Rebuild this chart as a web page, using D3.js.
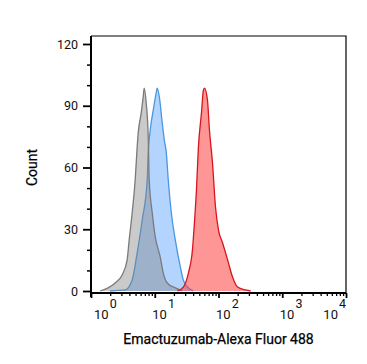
<!DOCTYPE html>
<html>
<head>
<meta charset="utf-8">
<script src="https://cdn.jsdelivr.net/npm/d3@7"></script>
<style>
  body { margin: 0; background: #fff; }
  svg { display: block; font-family: Roboto, "Noto Sans", sans-serif; }
</style>
</head>
<body>
<svg id="chart" width="367" height="364"></svg>
<script>
// isotype control (gray)
const isoX = [1.39, 1.85, 2.39, 3.08, 3.69, 3.97, 4.42, 4.93, 5.3, 5.5, 6.13, 6.59, 6.83, 7.35, 7.9, 8.19, 9.14, 10.2, 12.2, 13.6, 15.7, 21.0, 27.1];
const isoY = [0, 1.5, 3.9, 7.8, 15.1, 24.8, 37.9, 53.9, 69.9, 76.7, 86.4, 94.3, 98.6, 91.3, 74.8, 53.9, 37.9, 26.2, 16.5, 8.7, 3.9, 1.5, 0];
// blue sample
const blueX = [1.99, 3.43, 4.42, 5.3, 6.36, 7.62, 7.9, 8.49, 9.47, 10.6, 10.9, 11.8, 13.1, 14.1, 15.2, 16.3, 18.2, 21.0, 25.2, 28.1, 33.7, 40.4];
const blueY = [0, 0.5, 5.3, 18.5, 34.5, 53.9, 67.0, 78.2, 87.9, 96.7, 98.6, 94.3, 81.6, 73.4, 67.0, 53.9, 37.9, 24.8, 11.7, 5.3, 1.5, 0];
// red sample
const redX = [22.6, 28.1, 33.7, 39.0, 41.9, 45.1, 48.4, 54.0, 58.0, 60.2, 67.1, 72.1, 80.5, 89.7, 100, 116, 139, 166, 199, 266, 319];
const redY = [0, 1.9, 8.7, 19.9, 33.0, 49.1, 69.9, 86.4, 97.6, 98.6, 92.8, 78.2, 62.2, 40.8, 29.6, 23.3, 15.1, 6.8, 1.9, 0.5, 0];

const yTicks = [0, 30, 60, 90, 120];
const xDecades = [0, 1, 2, 3, 4];
const xTitle = "Emactuzumab-Alexa Fluor 488";
const yTitle = "Count";

const margin = { top: 36, right: 21, bottom: 73, left: 91 };
const width = 367, height = 364;
const plotW = width - margin.left - margin.right;
const baseY = 291;

const svg = d3.select("#chart");

const x = d3.scaleLog().domain([1, 1e4]).range([margin.left, margin.left + plotW]);
const y = d3.scaleLinear().domain([0, 120]).range([baseY, 44]);

const series = [
  { xs: isoX, ys: isoY, fill: "rgba(128,128,128,0.42)", stroke: "#7a7a7a" },
  { xs: blueX, ys: blueY, fill: "rgba(102,170,255,0.5)", stroke: "#4a97e0" },
  { xs: redX, ys: redY, fill: "rgba(255,45,45,0.5)", stroke: "#d8141c" }
];

const area = d3.area()
  .x(d => x(d[0]))
  .y0(y(0))
  .y1(d => y(d[1]))
  .curve(d3.curveMonotoneX);
const line = d3.line()
  .x(d => x(d[0]))
  .y(d => y(d[1]))
  .curve(d3.curveMonotoneX);

// draw blue first, gray over it, red last
[series[1], series[0], series[2]].forEach(s => {
  const pts = s.xs.map((v, i) => [v, s.ys[i]]);
  svg.append("path").datum(pts).attr("d", area).attr("fill", s.fill);
  svg.append("path").datum(pts).attr("d", line)
    .attr("fill", "none").attr("stroke", s.stroke).attr("stroke-width", 1.3);
});

// frame top and right
svg.append("path")
  .attr("d", `M${margin.left},${margin.top}H${margin.left + plotW}V293`)
  .attr("fill", "none").attr("stroke", "#000").attr("stroke-width", 1.2);

// y axis
const yMinor = d3.range(0, 121, 10).filter(v => v % 30 !== 0);
svg.append("g")
  .attr("transform", `translate(${margin.left},0)`)
  .call(d3.axisLeft(y).tickValues(yMinor).tickSize(4).tickFormat(""))
  .call(g => g.select(".domain").remove())
  .call(g => g.selectAll("line").attr("stroke-width", 1.5));
const yAx = svg.append("g")
  .attr("transform", `translate(${margin.left},0)`)
  .call(d3.axisLeft(y).tickValues(yTicks).tickSize(8).tickPadding(5))
  .call(g => g.select(".domain").remove());
yAx.selectAll("line").attr("stroke-width", 1.8);
yAx.selectAll("text").attr("font-size", 12.5).attr("fill", "#111").style("font-family", "Roboto");
svg.append("line")
  .attr("x1", margin.left).attr("x2", margin.left)
  .attr("y1", margin.top).attr("y2", 297)
  .attr("stroke", "#000").attr("stroke-width", 2);

// x axis
const xMinor = [];
xDecades.slice(0, -1).forEach(p => d3.range(2, 10).forEach(m => xMinor.push(m * Math.pow(10, p))));
svg.append("g")
  .attr("transform", "translate(0,293)")
  .call(d3.axisBottom(x).tickValues(xMinor).tickSize(3).tickFormat(""))
  .call(g => g.select(".domain").remove())
  .call(g => g.selectAll("line").attr("stroke-width", 1.3));
svg.append("g")
  .attr("transform", "translate(0,293)")
  .call(d3.axisBottom(x).tickValues(xDecades.map(p => Math.pow(10, p))).tickSize(5).tickFormat(""))
  .call(g => g.select(".domain").remove())
  .call(g => g.selectAll("line").attr("stroke-width", 1.8));
svg.append("line")
  .attr("x1", margin.left).attr("x2", margin.left + plotW)
  .attr("y1", 293).attr("y2", 293)
  .attr("stroke", "#000").attr("stroke-width", 2);

// decade labels 10^n
xDecades.forEach((p, i) => {
  const px = x(Math.pow(10, p));
  const last = i === xDecades.length - 1;
  const t = svg.append("text")
    .attr("y", 318.5)
    .attr("font-size", 13)
    .attr("fill", "#111")
    .attr("text-anchor", last ? "end" : "start")
    .attr("x", i === 0 ? px + 3 : last ? px : px - 2.5);
  t.append("tspan").text("10");
  t.append("tspan").attr("dy", -11).attr("dx", 1).attr("font-size", 12.5).text(p);
});

// titles
svg.append("text")
  .attr("x", margin.left + plotW / 2)
  .attr("y", 344)
  .attr("text-anchor", "middle")
  .attr("font-size", 14)
  .attr("fill", "#000")
  .attr("stroke", "#000")
  .attr("stroke-width", 0.25)
  .text(xTitle);
svg.append("text")
  .attr("transform", `translate(37,${(44 + baseY) / 2}) rotate(-90)`)
  .attr("text-anchor", "middle")
  .attr("font-size", 14)
  .attr("fill", "#000")
  .attr("stroke", "#000")
  .attr("stroke-width", 0.2)
  .text(yTitle);
</script>
</body>
</html>
